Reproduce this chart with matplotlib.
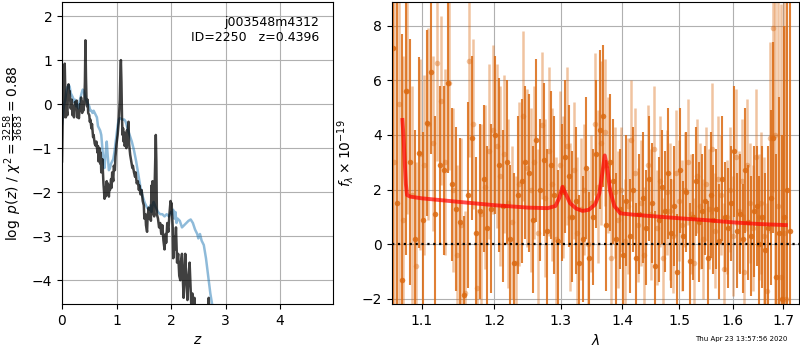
"""Redshift fit summary: log p(z) on the left, grism spectrum with best-fit model on the right."""

import matplotlib
matplotlib.use("Agg")
import matplotlib.pyplot as plt
import numpy as np
from matplotlib.ticker import NullLocator, FixedLocator, FixedFormatter

# --- left panel: log p(z) ---------------------------------------------------
z_chi = [0.00, 0.01, 0.02, 0.03, 0.05, 0.06, 0.07, 0.08, 0.10, 0.11, 0.12, 0.13, 0.14, 0.16,
         0.18, 0.19, 0.21, 0.22, 0.24, 0.26, 0.27, 0.28, 0.30, 0.31, 0.33, 0.34, 0.35, 0.37,
         0.38, 0.39, 0.41, 0.42, 0.43, 0.44, 0.45, 0.46, 0.47, 0.48, 0.50, 0.51, 0.52, 0.54,
         0.55, 0.57, 0.58, 0.60, 0.62, 0.63, 0.65, 0.66, 0.67, 0.69, 0.70, 0.71, 0.72, 0.74,
         0.75, 0.76, 0.78, 0.79, 0.80, 0.82, 0.83, 0.84, 0.86, 0.87, 0.88, 0.90, 0.91, 0.92,
         0.94, 0.95, 0.97, 0.98, 1.00, 1.02, 1.04, 1.06, 1.07, 1.08, 1.09, 1.10, 1.11, 1.12,
         1.13, 1.14, 1.15, 1.17, 1.18, 1.19, 1.20, 1.21, 1.22, 1.23, 1.25, 1.27, 1.29, 1.30,
         1.32, 1.34, 1.35, 1.37, 1.39, 1.41, 1.42, 1.44, 1.46, 1.48, 1.50, 1.51, 1.53, 1.54,
         1.56, 1.57, 1.59, 1.60, 1.62, 1.63, 1.64, 1.65, 1.66, 1.67, 1.69, 1.70, 1.72, 1.73,
         1.74, 1.76, 1.78, 1.80, 1.82, 1.84, 1.86, 1.88, 1.90, 1.91, 1.93, 1.95, 1.97, 1.99,
         2.00, 2.01, 2.03, 2.04, 2.06, 2.07, 2.09, 2.11, 2.13, 2.15, 2.17, 2.18, 2.20, 2.21,
         2.23, 2.25, 2.26, 2.28, 2.30, 2.32, 2.34, 2.36, 2.37, 2.39, 2.41, 2.43, 2.45, 2.50,
         2.60, 2.67, 2.69, 2.71]
logp_chi = [-1.30, -0.60, 0.20, -0.30, 0.92, 0.30, -0.30, -0.10, -0.25, 0.40, 0.45, 0.15, 0.30, -0.10,
            0.10, -0.25, -0.05, -0.30, 0.05, -0.10, 0.08, -0.30, -0.20, -0.32, 0.00, -0.15, 0.15, -0.20,
            0.05, -0.15, 0.05, 0.50, 1.45, 0.60, 0.05, -0.05, 0.10, -0.20, -0.25, -0.40, -0.35, -0.55,
            -0.45, -0.75, -0.70, -0.90, -0.95, -0.85, -1.10, -0.95, -1.30, -1.00, -1.35, -1.10, -1.55, -1.25,
            -1.50, -1.80, -2.15, -1.90, -2.10, -1.75, -2.05, -1.80, -2.10, -1.85, -1.95, -1.70, -1.90, -1.55,
            -1.75, -1.40, -1.50, -1.20, -0.90, -0.70, -0.40, 0.10, 0.70, 1.00, 0.50, -0.30, -0.70, -0.55,
            -0.85, -0.65, -0.95, -0.75, -1.00, -0.60, -0.90, -0.50, -0.40, -0.90, -1.15, -1.30, -1.45, -1.40,
            -1.55, -1.65, -1.55, -1.80, -1.75, -1.95, -1.85, -2.05, -1.95, -2.20, -2.30, -2.60, -2.50, -2.75,
            -2.90, -2.55, -2.35, -2.60, -2.40, -2.65, -1.85, -2.50, -1.75, -2.30, -2.55, -1.80, -0.70, -1.30,
            -2.50, -2.60, -2.80, -2.70, -2.95, -2.75, -3.10, -3.30, -2.95, -3.15, -2.70, -2.90, -2.50, -2.20,
            -2.45, -2.25, -2.80, -3.50, -3.00, -3.30, -2.80, -3.60, -3.40, -3.90, -4.00, -3.60, -3.40, -3.80,
            -4.40, -3.70, -3.40, -4.00, -4.45, -3.90, -3.60, -4.20, -4.55, -4.30, -4.60, -4.40, -5.00, -5.50,
            -5.20, -4.80, -4.40, -5.00]

z_pz = [0.00, 0.02, 0.04, 0.06, 0.08, 0.10, 0.12, 0.14, 0.16, 0.18, 0.20, 0.22, 0.24, 0.26,
        0.28, 0.30, 0.32, 0.34, 0.36, 0.38, 0.40, 0.42, 0.44, 0.46, 0.48, 0.50, 0.52, 0.54,
        0.56, 0.58, 0.60, 0.62, 0.64, 0.66, 0.68, 0.70, 0.72, 0.74, 0.76, 0.78, 0.80, 0.82,
        0.84, 0.86, 0.88, 0.90, 0.92, 0.94, 0.96, 0.98, 1.00, 1.02, 1.04, 1.06, 1.08, 1.10,
        1.12, 1.14, 1.16, 1.18, 1.20, 1.24, 1.28, 1.32, 1.36, 1.40, 1.44, 1.48, 1.52, 1.56,
        1.60, 1.62, 1.64, 1.66, 1.68, 1.72, 1.76, 1.80, 1.84, 1.88, 1.92, 1.96, 2.00, 2.02,
        2.04, 2.06, 2.08, 2.10, 2.12, 2.16, 2.20, 2.24, 2.28, 2.32, 2.36, 2.40, 2.44, 2.48,
        2.50, 2.53, 2.56, 2.60, 2.64, 2.68, 2.72, 2.76, 2.80]
logp_pz = [-0.45, -0.20, 0.00, 0.10, 0.30, 0.38, 0.43, 0.40, 0.25, 0.20, 0.15, 0.05, 0.10, -0.05,
           0.00, -0.10, 0.05, 0.15, 0.25, 0.33, 0.30, 0.20, 0.10, 0.05, 0.00, -0.05, -0.15, -0.15,
           -0.20, -0.15, -0.20, -0.25, -0.30, -0.50, -0.55, -0.60, -0.70, -1.00, -1.30, -1.45, -1.10, -0.85,
           -1.20, -1.50, -1.45, -1.35, -1.30, -1.25, -1.10, -0.90, -0.70, -0.50, -0.35, -0.32, -0.33, -0.35,
           -0.35, -0.35, -0.38, -0.45, -0.55, -0.70, -0.85, -1.05, -1.30, -1.60, -1.90, -2.10, -2.25, -2.35,
           -2.40, -2.30, -2.45, -2.30, -2.22, -2.35, -2.45, -2.50, -2.50, -2.55, -2.50, -2.55, -2.45, -2.50,
           -2.40, -2.60, -2.45, -2.70, -2.60, -2.65, -2.80, -2.75, -2.70, -2.65, -2.62, -2.70, -2.85, -2.95,
           -3.05, -2.95, -3.10, -3.20, -3.50, -3.90, -4.30, -4.60, -5.00]

# --- right panel: spectrum ----------------------------------------------------
wave_a = (1.0625, 1.7130)      # first / last pixel wavelength, beam A (dark)
flux_a = [7.2, 1.5, -1.3, 5.6, 3.0, 0.2, 3.35,
          0.9, 4.45, 6.3, 1.1, 2.9, 2.7, 5.9, 2.2, 1.3,
          0.8, -1.85, 1.8, 3.9, 0.4, 1.2, 2.4, 0.6, 1.3,
          4.0, 2.9, 1.4, 3.0, 0.2, -0.7, 1.8, 2.3, 3.0,
          2.6, 0.9, 3.8, 2.0, 3.1, 0.5, 2.9, 1.8, 0.1,
          1.9, 3.2, 2.5, 1.0, 1.6, -0.7, 0.2, 2.8, -0.5,
          1.0, 3.3, 4.2, 4.7, 0.7, 3.0, 2.3, 0.2, 1.3,
          -0.4, 1.6, 0.3, 2.0, -0.5, 1.1, 1.7, 0.6, 2.4,
          1.5, -0.8, 0.9, 2.1, 1.2, 2.6, 0.4, 1.4, -1.0,
          2.7, 0.3, 1.9, -0.6, 1.0, 2.3, 0.8, 1.2, 1.6,
          -0.5, 1.8, 0.9, 1.3, 0.1, 2.4, 1.0, 0.6, 1.5,
          3.4, 0.5, 1.1, 0.2, 2.7, 0.8, 0.3, 1.2, 1.4,
          0.0, 1.0, -0.2, 0.6, 1.7, 3.9, -1.2, 0.4, -2.0,
          1.0, 2.0, 0.5]
err_a = [12.0, 12.0, 9.0, 6.0, 4.5, 4.0, 3.5,
         3.2, 3.4, 3.0, 3.6, 2.9, 3.1, 3.3, 2.8, 3.0,
         3.1, 2.9, 3.4, 3.0, 2.8, 3.2, 2.7, 3.0, 3.1,
         2.9, 3.2, 2.8, 3.0, 2.7, 3.3, 2.9, 3.0, 2.8,
         2.9, 2.7, 3.0, 2.6, 2.8, 3.0, 2.7, 2.9, 2.6,
         2.5, 2.8, 2.6, 2.4, 2.7, 2.5, 2.3, 2.6, 2.4,
         2.5, 2.7, 2.9, 2.6, 2.4, 2.5, 2.3, 2.4, 2.2,
         2.2, 2.4, 2.1, 2.3, 2.0, 2.2, 2.4, 2.1, 2.3,
         2.2, 2.0, 2.3, 2.1, 2.2, 2.4, 2.0, 2.2, 2.1,
         2.3, 2.0, 2.2, 2.1, 2.3, 2.0, 2.2, 2.1, 2.0,
         2.1, 2.3, 2.0, 2.2, 2.1, 2.3, 2.0, 2.2, 2.1,
         2.4, 2.1, 2.2, 2.0, 2.3, 2.1, 2.2, 2.4, 2.2,
         2.5, 2.6, 2.8, 3.0, 3.2, 3.5, 4.5, 5.0, 6.0,
         7.0, 9.0, 12.0]

wave_b = (1.0640, 1.7060)      # beam B (light)
flux_b = [3.0, 5.15, 0.9, 5.6, 1.8, -0.8, 3.3,
          2.9, 4.4, 3.7, 6.65, 5.25, 3.0, 5.9, 2.0, -0.4,
          0.7, -1.8, 6.7, 4.4, -1.6, 1.1, 2.1, 3.4, 4.2,
          3.6, 2.5, 3.3, 1.5, 0.8, -0.7, 2.2, 4.7, 2.8,
          2.0, 3.0, 0.4, 4.35, 1.7, 3.4, 2.2, 0.2, 2.9,
          2.1, 3.6, 1.0, 2.7, 0.4, 1.3, 2.0, 0.0, 1.5,
          4.4, 2.1, 3.7, 4.1, 2.9, -0.5, 1.9, 0.9, 2.0,
          0.1, 1.4, 3.8, 2.6, 0.7, 1.5, -0.4, 2.9, 1.1,
          3.5, 0.6, 2.3, -0.5, 1.9, 1.2, 0.3, 2.6, 1.6,
          0.7, 2.0, 3.0, 1.1, -0.7, 2.5, 1.4, 0.2, 2.2,
          1.3, 3.5, 0.5, 2.4, 1.8, -0.9, 1.0, 2.0, 0.3,
          3.2, 1.2, 2.3, -1.0, 2.9, 1.5, 0.6, 3.2, 1.0,
          1.5, 0.3, -1.7, 3.9, 7.9, 4.0, 1.4, -1.2, 0.4,
          -2.0]
err_b = [10.0, 8.0, 6.0, 4.5, 4.0, 3.8, 3.5,
         3.3, 3.5, 3.2, 3.6, 3.1, 3.4, 3.2, 3.0, 3.3,
         3.2, 3.0, 3.5, 3.1, 2.9, 3.3, 3.0, 3.2, 3.1,
         3.0, 3.3, 2.9, 3.1, 2.8, 3.2, 3.0, 3.1, 2.9,
         3.0, 2.8, 3.1, 2.7, 2.9, 3.1, 2.8, 3.0, 2.7,
         2.6, 2.9, 2.7, 2.5, 2.8, 2.6, 2.4, 2.7, 2.5,
         2.6, 2.8, 3.0, 2.7, 2.5, 2.6, 2.4, 2.5, 2.3,
         2.3, 2.5, 2.2, 2.4, 2.1, 2.3, 2.5, 2.2, 2.4,
         2.3, 2.1, 2.4, 2.2, 2.3, 2.5, 2.1, 2.3, 2.2,
         2.4, 2.1, 2.3, 2.2, 2.4, 2.1, 2.3, 2.2, 2.1,
         2.2, 2.4, 2.1, 2.3, 2.2, 2.4, 2.1, 2.3, 2.2,
         2.5, 2.2, 2.3, 2.1, 2.4, 2.2, 2.3, 2.5, 2.3,
         2.6, 2.9, 3.2, 3.5, 6.0, 8.0, 9.0, 10.0, 10.0,
         10.0]

model_wave = [1.0745, 1.0760, 1.0775, 1.0790, 1.0805, 1.085, 1.10, 1.15, 1.20, 1.25, 1.28,
              1.292, 1.298, 1.303, 1.308, 1.315, 1.325, 1.335, 1.345, 1.355, 1.362, 1.367,
              1.371, 1.375, 1.380, 1.387, 1.397, 1.42, 1.45, 1.50, 1.55, 1.60, 1.65, 1.705]
model_flux = [4.55, 3.9, 3.0, 2.2, 1.80, 1.74, 1.68, 1.55, 1.43, 1.34, 1.32,
              1.40, 1.70, 2.10, 1.85, 1.50, 1.30, 1.22, 1.26, 1.45, 1.85, 2.60,
              3.25, 2.80, 1.95, 1.40, 1.13, 1.08, 1.03, 0.95, 0.88, 0.80, 0.74, 0.70]

wave_ticks = [1.1, 1.2, 1.3, 1.4, 1.5, 1.6, 1.7]
label_text = "j003548m4312\nID=2250   z=0.4396"
stamp = "Thu Apr 23 13:57:56 2020"

ORANGE = "#db6a12"

fig = plt.figure(figsize=(8, 3.5), dpi=100)
ax_z = fig.add_axes([0.0775, 0.1314, 0.3388, 0.8629])
ax_s = fig.add_axes([0.4896, 0.1314, 0.5095, 0.8629])

ax_z.plot(z_pz, logp_pz, color="tab:blue", alpha=0.5, lw=1.8)
ax_z.plot(z_chi, logp_chi, color="k", alpha=0.75, lw=1.8)
ax_z.set_xlim(0, 4.97)
ax_z.set_ylim(-4.54, 2.32)
ax_z.set_xticks([0, 1, 2, 3, 4])
ax_z.set_yticks([-4, -3, -2, -1, 0, 1, 2])
ax_z.set_xlabel("$z$")
ax_z.set_ylabel(r"$\log\ p(z)$ / $\chi^2=\frac{3258}{3683}=0.88$")
ax_z.text(0.95, 0.955, label_text, ha="right", va="top", ma="right",
          transform=ax_z.transAxes, fontsize=9)
ax_z.grid()

lam_a = np.linspace(*wave_a, len(flux_a))
lam_b = np.linspace(*wave_b, len(flux_b))
ax_s.errorbar(lam_b, flux_b, yerr=err_b, fmt="o", color=ORANGE, alpha=0.4,
              ms=4, elinewidth=1.8, capsize=0, mew=0)
ax_s.errorbar(lam_a, flux_a, yerr=err_a, fmt="o", color=ORANGE, alpha=0.85,
              ms=4, elinewidth=1.5, capsize=0, mew=0)
ax_s.plot(model_wave, model_flux, color="r", alpha=0.7, lw=2.8, zorder=5)
ax_s.axhline(0, color="k", ls=":", lw=1.6, zorder=6)

ax_s.set_xscale("log")
ax_s.set_xlim(1.0607, 1.733)
ax_s.set_ylim(-2.19, 8.87)
ax_s.xaxis.set_major_locator(FixedLocator(wave_ticks))
ax_s.xaxis.set_major_formatter(FixedFormatter([f"{w:.1f}" for w in wave_ticks]))
ax_s.xaxis.set_minor_locator(NullLocator())
ax_s.set_yticks([-2, 0, 2, 4, 6, 8])
ax_s.set_xlabel(r"$\lambda$")
ax_s.set_ylabel(r"$f_\lambda\times10^{-19}$")
ax_s.grid()

fig.text(0.984, 0.03, stamp, ha="right", va="center", fontsize=5)

fig.savefig("out.png", dpi=100)
